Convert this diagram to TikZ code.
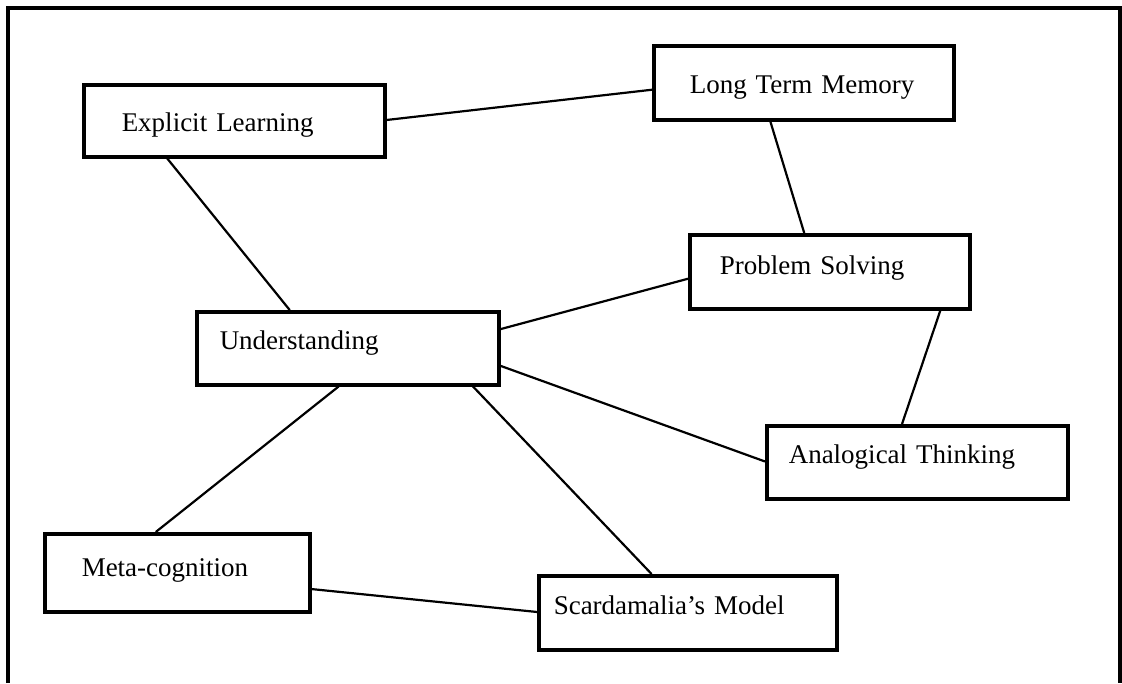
\documentclass[tikz,border=0pt]{standalone}
\usepackage{fontspec}
\setmainfont{Liberation Serif}
\usetikzlibrary{calc}

\tikzset{
  concept/.style={draw, line width=3.5pt, anchor=north west, inner ysep=0pt,
    align=left, font=\fontsize{27}{30}\selectfont},
  link/.style={line width=2.2pt},
  frame/.style={line width=3.5pt}
}

% concept box: name, left, top, right, bottom, text x, baseline, label
\newcommand{\conceptbox}[8]{%
  \pgfmathsetmacro{\xs}{#6-#2}%
  \pgfmathsetmacro{\tw}{#4-#2-2*(#6-#2)}%
  \pgfmathsetmacro{\th}{#7-#3}%
  \pgfmathsetmacro{\td}{#5-#7}%
  \node[concept, inner xsep=\xs pt, text width=\tw pt, text height=\th pt,
        text depth=\td pt] (#1) at (#2,#3) {#8};%
}

\begin{document}
\begin{tikzpicture}[x=1pt, y=-1pt]
  \useasboundingbox (0,0) rectangle (1122,683);

  % open outer frame
  \draw[frame] (8,683) -- (8,8) -- (1120,8) -- (1120,683);

  \conceptbox{el}{82}{83}{383}{155}{120}{130}{Explicit Learning}
  \conceptbox{ltm}{652}{44}{952}{118}{688}{92}{Long Term Memory}
  \conceptbox{ps}{688}{233}{968}{307}{718}{273}{Problem Solving}
  \conceptbox{u}{195}{310}{497}{383}{218}{348}{Understanding}
  \conceptbox{at}{765}{424}{1066}{497}{787}{462}{Analogical Thinking}
  \conceptbox{mc}{43}{532}{308}{610}{80}{575}{Meta-cognition}
  \conceptbox{sm}{537}{574}{835}{648}{552}{613}{Scardamalia’s Model}

  % links between concepts
  \draw[link] ($(el.north east)!0.49!(el.south east)$) -- ($(ltm.north west)!0.59!(ltm.south west)$);
  \draw[link] ($(el.south west)!0.28!(el.south east)$) -- ($(u.north west)!0.31!(u.north east)$);
  \draw[link] ($(ltm.south west)!0.39!(ltm.south east)$) -- ($(ps.north west)!0.41!(ps.north east)$);
  \draw[link] ($(u.north east)!0.25!(u.south east)$) -- ($(ps.north west)!0.59!(ps.south west)$);
  \draw[link] ($(u.north east)!0.73!(u.south east)$) -- ($(at.north west)!0.49!(at.south west)$);
  \draw[link] ($(ps.south west)!0.89!(ps.south east)$) -- ($(at.north west)!0.45!(at.north east)$);
  \draw[link] ($(u.south west)!0.47!(u.south east)$) -- ($(mc.north west)!0.42!(mc.north east)$);
  \draw[link] ($(u.south west)!0.91!(u.south east)$) -- ($(sm.north west)!0.38!(sm.north east)$);
  \draw[link] ($(mc.north east)!0.7!(mc.south east)$) -- ($(sm.north west)!0.49!(sm.south west)$);
\end{tikzpicture}
\end{document}
